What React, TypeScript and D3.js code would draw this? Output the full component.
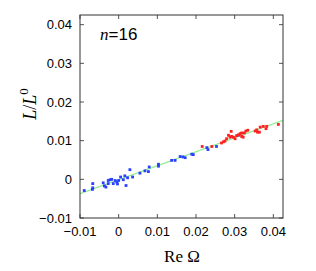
import React from 'react';
import * as d3 from 'd3';

// blue set: [Re Ω, L/L0]
const bluePoints: [number, number][] = [
  [-0.0089, -0.0029], [-0.0067, -0.0011], [-0.0067, -0.0022], [-0.0068, -0.0026],
  [-0.0040, -0.0009], [-0.0037, -0.0017], [-0.0033, -0.0020], [-0.0027, -0.0003],
  [-0.0022, -0.0001], [-0.0018, 0.0000], [-0.0027, -0.0011], [-0.0014, -0.0011],
  [-0.0009, -0.0003], [-0.0005, -0.0007], [-0.0003, -0.0012], [0.0000, -0.0003],
  [0.0005, 0.0006], [0.0012, -0.0001], [0.0016, 0.0009], [0.0019, -0.0016],
  [0.0023, 0.0004], [0.0029, 0.0025], [0.0036, 0.0006], [0.0055, 0.0016],
  [0.0068, 0.0022], [0.0077, 0.0020], [0.0079, 0.0032], [0.0103, 0.0039],
  [0.0103, 0.0034], [0.0137, 0.0049], [0.0146, 0.0049], [0.0159, 0.0059],
  [0.0166, 0.0058], [0.0172, 0.0056], [0.0189, 0.0065], [0.0193, 0.0064],
  [0.0228, 0.0082], [0.0231, 0.0077], [0.0253, 0.0085], [0.0309, 0.0114],
];

const redPoints: [number, number][] = [
  [0.0216, 0.0085], [0.0241, 0.0085], [0.0266, 0.0094], [0.0271, 0.0097],
  [0.0275, 0.0099], [0.0279, 0.0105], [0.0284, 0.0114], [0.0288, 0.0109],
  [0.0292, 0.0111], [0.0291, 0.0124], [0.0297, 0.0109], [0.0301, 0.0105],
  [0.0305, 0.0113], [0.0314, 0.0118], [0.0318, 0.0111], [0.0322, 0.0109],
  [0.0325, 0.0120], [0.0329, 0.0125], [0.0334, 0.0127], [0.0353, 0.0125],
  [0.0357, 0.0128], [0.0359, 0.0122], [0.0364, 0.0122], [0.0366, 0.0135],
  [0.0374, 0.0137], [0.0381, 0.0131], [0.0383, 0.0137], [0.0413, 0.0142],
  [0.0318, 0.0120], [0.0310, 0.0115],
];

// fitted line: L/L0 = slope * ReΩ + intercept
const fitSlope = 0.361;
const fitIntercept = -0.0001;

const xTicks = [-0.01, 0, 0.01, 0.02, 0.03, 0.04];
const yTicks = [-0.01, 0, 0.01, 0.02, 0.03, 0.04];
const xDomain: [number, number] = [-0.01, 0.0425];
const yDomain: [number, number] = [-0.01, 0.0425];

const fmt = (d: number) => (d === 0 ? '0' : d3.format('.2f')(d));

export default function App() {
  const W = 316, H = 271;
  const m = { left: 80, right: 283, top: 15, bottom: 218 };
  const x = d3.scaleLinear().domain(xDomain).range([m.left, m.right]);
  const y = d3.scaleLinear().domain(yDomain).range([m.bottom, m.top]);
  const tk = 4;

  const line = d3.line<number>()
    .x(d => x(d))
    .y(d => y(fitSlope * d + fitIntercept));

  return (
    <svg width={W} height={H} style={{ position: 'absolute', left: 0, top: 0, background: '#fff' }}>
      <defs>
        <clipPath id="plot">
          <rect x={m.left} y={m.top} width={m.right - m.left} height={m.bottom - m.top} />
        </clipPath>
      </defs>
      <g clipPath="url(#plot)">
        <path d={line(xDomain) || ''} stroke="#90ee90" strokeWidth={1.2} fill="none" />
        {bluePoints.map((p, i) => (
          <rect key={'b' + i} x={x(p[0]) - 1.4} y={y(p[1]) - 1.4} width={2.8} height={2.8} fill="#2a40ff" />
        ))}
        {redPoints.map((p, i) => (
          <rect key={'r' + i} x={x(p[0]) - 1.4} y={y(p[1]) - 1.4} width={2.8} height={2.8} fill="#ff2020" />
        ))}
      </g>
      {/* ticks on all sides, pointing inward */}
      <g stroke="#555" strokeWidth={1}>
        {xTicks.map(t => (
          <g key={'xt' + t}>
            <line x1={x(t)} x2={x(t)} y1={m.bottom} y2={m.bottom - tk} />
            <line x1={x(t)} x2={x(t)} y1={m.top} y2={m.top + tk} />
          </g>
        ))}
        {yTicks.map(t => (
          <g key={'yt' + t}>
            <line x1={m.left} x2={m.left + tk} y1={y(t)} y2={y(t)} />
            <line x1={m.right} x2={m.right - tk} y1={y(t)} y2={y(t)} />
          </g>
        ))}
      </g>
      <rect x={m.left} y={m.top} width={m.right - m.left} height={m.bottom - m.top}
        fill="none" stroke="#333" strokeWidth={1} />
      <g fontFamily="Liberation Sans, Arial, sans-serif" fontSize={13} fill="#000">
        {xTicks.map(t => (
          <text key={'xl' + t} x={x(t)} y={m.bottom + 18} textAnchor="middle">{fmt(t)}</text>
        ))}
        {yTicks.map(t => (
          <text key={'yl' + t} x={m.left - 8} y={y(t) + 4.5} textAnchor="end">{fmt(t)}</text>
        ))}
      </g>
      <text x={182} y={262} textAnchor="middle" fontFamily="Liberation Serif, Times New Roman, serif" fontSize={17}>
        Re Ω
      </text>
      <text transform={`translate(36,104) rotate(-90)`} textAnchor="middle"
        fontFamily="Liberation Serif, Times New Roman, serif" fontSize={18}>
        <tspan fontStyle="italic">L</tspan>/<tspan fontStyle="italic">L</tspan>
        <tspan fontSize={13} dy={-8}>0</tspan>
      </text>
      <text x={100} y={40} fontFamily="Liberation Sans, Arial, sans-serif" fontSize={17}>
        <tspan fontFamily="Liberation Serif, Times New Roman, serif" fontStyle="italic">n</tspan>=16
      </text>
    </svg>
  );
}
